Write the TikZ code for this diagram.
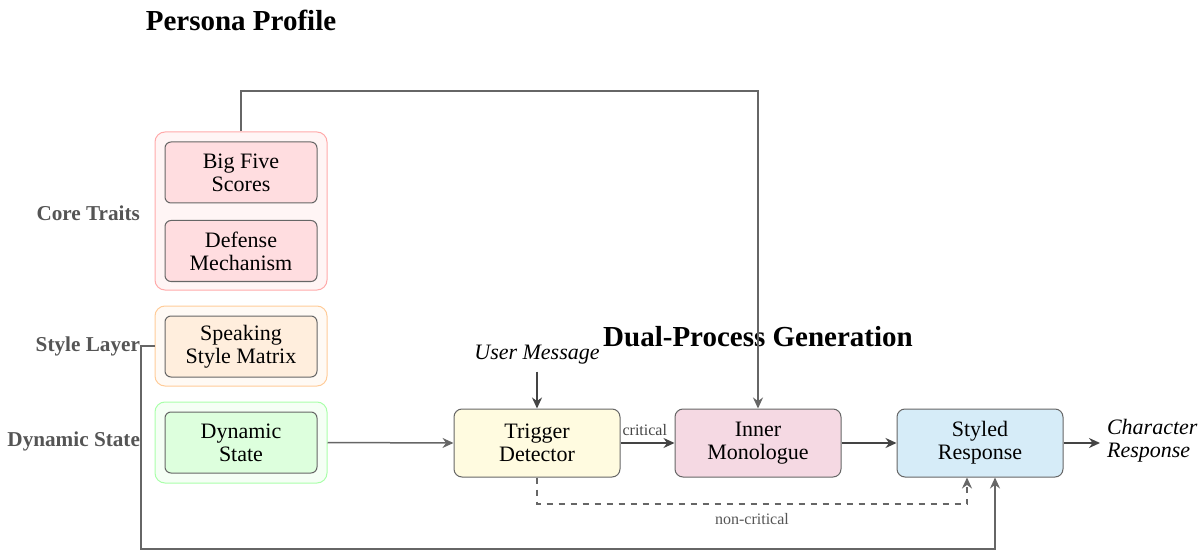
\documentclass[tikz,border=0pt]{standalone}
\usepackage{fontspec}
\setmainfont{Liberation Serif}
\usepackage{tikz}
\usetikzlibrary{arrows.meta, positioning}
\definecolor{boxline}{HTML}{666666}
\definecolor{labelgray}{HTML}{555555}
\definecolor{darkarr}{HTML}{444444}
\definecolor{corefill}{HTML}{FFDDE0}
\definecolor{coreout}{HTML}{FFAAAA}
\definecolor{corebg}{HTML}{FFF5F5}
\definecolor{stylefill}{HTML}{FFEEDD}
\definecolor{styleout}{HTML}{FFCC99}
\definecolor{stylebg}{HTML}{FFFAF5}
\definecolor{dynfill}{HTML}{DDFFDD}
\definecolor{dynout}{HTML}{AAFFAA}
\definecolor{dynbg}{HTML}{F5FFF5}
\definecolor{trigfill}{HTML}{FFFBE0}
\definecolor{innerfill}{HTML}{F5D9E3}
\definecolor{respfill}{HTML}{D6ECF8}

\begin{document}
\begin{tikzpicture}[
    x=0.5pt, y=-0.5pt,
    every node/.style={font=\fontsize{11}{11.5}\selectfont},
    group/.style={rounded corners=5pt, line width=0.5pt,
                  minimum width=86pt},
    trait/.style={draw=boxline, rounded corners=3pt, line width=0.5pt,
                  minimum width=76pt, minimum height=30.5pt, align=center},
    proc/.style={draw=boxline, rounded corners=4pt, line width=0.5pt,
                 minimum width=83pt, minimum height=34pt, align=center},
    sidelabel/.style={anchor=east, text=labelgray,
                      font=\fontsize{10.6}{12}\selectfont\bfseries},
    heading/.style={font=\fontsize{14.5}{16}\selectfont\bfseries},
    arr/.style={-{Stealth[length=5.5pt, width=5pt]}, line width=1pt, draw=darkarr},
    feed/.style={-{Stealth[length=5.5pt, width=5pt]}, line width=0.75pt, draw=boxline}
]
    \useasboundingbox (0,0) rectangle (1201,551);

    % persona profile
    \node[heading] (ptitle) at (241,20) {Persona Profile};

    \node[group, draw=coreout, fill=corebg, minimum height=79pt] (core) at (241,211) {};
    \node[trait, fill=corefill] (bigfive) at (241,172.5) {Big Five\\Scores};
    \node[trait, fill=corefill] (defense) at (241,251) {Defense\\Mechanism};
    \node[sidelabel] (corelbl) at (147,213) {Core Traits};

    \node[group, draw=styleout, fill=stylebg, minimum height=40pt] (style) at (241,346) {};
    \node[trait, fill=stylefill] (speaking) at (241,346.5) {Speaking\\Style Matrix};
    \node[sidelabel] (stylelbl) at (147,346) {Style Layer};

    \node[group, draw=dynout, fill=dynbg, minimum height=40.5pt] (dyn) at (241,442.5) {};
    \node[trait, fill=dynfill] (dynstate) at (241,442.5) {Dynamic\\State};
    \node[sidelabel] (dynlbl) at (147,441) {Dynamic State};

    % dual-process generation
    \node[heading] (gtitle) at (758,337) {Dual-Process Generation};
    \node[font=\fontsize{11}{12}\selectfont\itshape] (user) at (537,355) {User Message};

    \node[proc, fill=trigfill] (trigger) at (537,443) {Trigger\\Detector};
    \node[proc, fill=innerfill] (inner) at (758,443) {Inner\\Monologue};
    \node[proc, fill=respfill] (styled) at (980,443) {Styled\\Response};
    \node[anchor=west, align=left, font=\fontsize{11}{11.5}\selectfont\itshape]
        (charresp) at (1100,441) {Character\\Response};

    \draw[arr] (user) -- (trigger);
    \draw[arr] (trigger) -- node[above, pos=0.45, font=\fontsize{8}{9}\selectfont, text=darkarr]{critical} (inner);
    \draw[arr] (inner) -- (styled);
    \draw[arr] (styled) -- (charresp.west |- styled.east);

    \draw[feed] (dyn.east) -- (trigger.west);
    \draw[feed] (bigfive.north |- core.north) |- (758,91) -- (inner.north);
    \draw[feed, dashed, line width=0.75pt] (trigger.south) -- (537,504) -| node[below, pos=0.25, yshift=-1pt, font=\fontsize{8}{9}\selectfont, text=labelgray]{non-critical} ([xshift=-6.5pt]styled.south);
    \draw[feed] (style.west) -- (141,346) |- (995,549) -- ([xshift=7.5pt]styled.south);
\end{tikzpicture}
\end{document}
